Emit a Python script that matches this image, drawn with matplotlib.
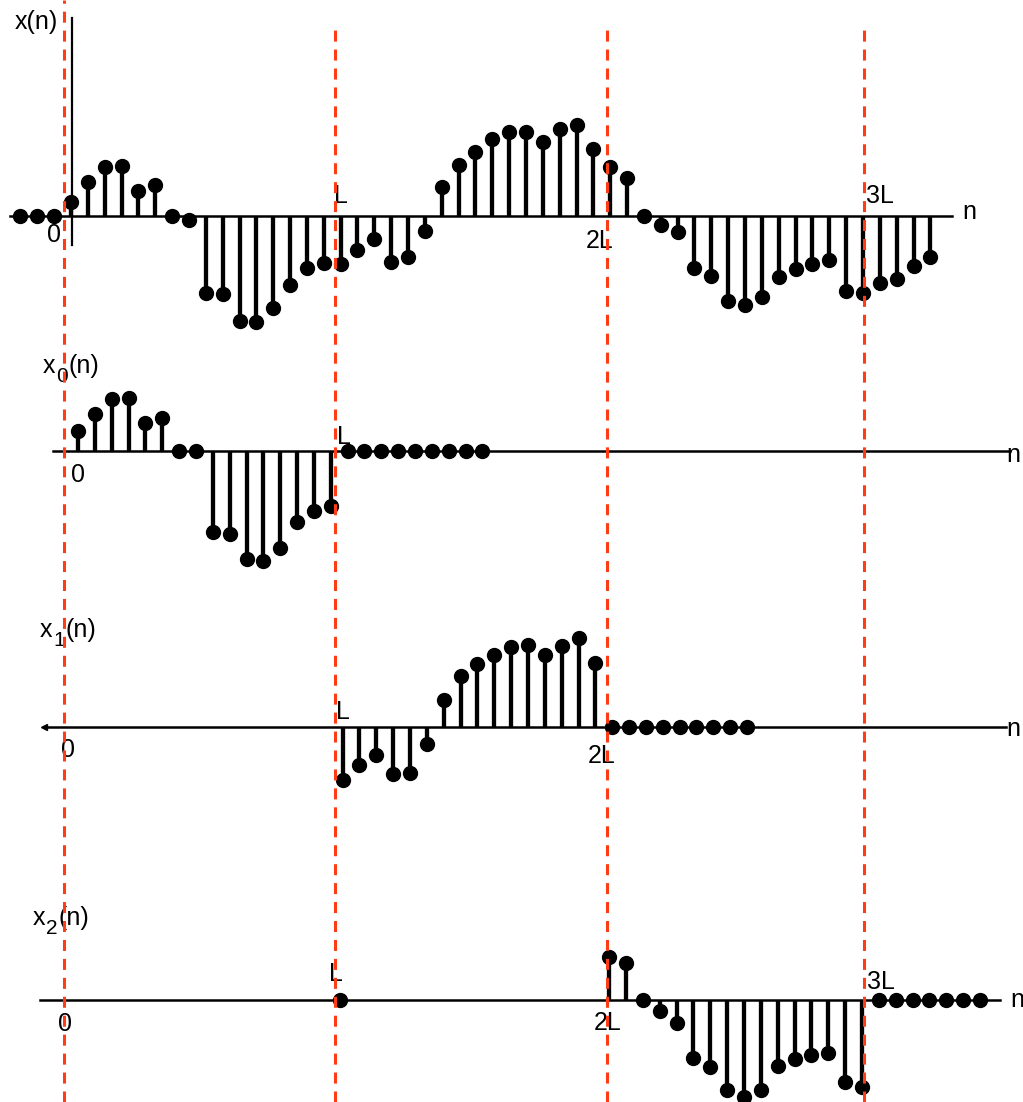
import matplotlib
matplotlib.use("Agg")
import matplotlib.pyplot as plt
import numpy as np

plt.rcParams['font.family'] = ['Liberation Sans', 'DejaVu Sans']

# full input sequence x(n), n = -3 .. 51
n_x = np.arange(-3, 52)
x_vals = [0.0, 0.0, 0.0,
          0.14, 0.34, 0.49, 0.50, 0.25, 0.31, 0.0, -0.04,
          -0.77, -0.78, -1.05, -1.06, -0.92, -0.69, -0.52, -0.47,
          -0.48, -0.34, -0.23, -0.46, -0.41, -0.15,
          0.29, 0.51, 0.64, 0.77, 0.84, 0.84, 0.74, 0.87, 0.91, 0.67,
          0.49, 0.38, 0.0, -0.09, -0.16, -0.52, -0.60, -0.85, -0.89,
          -0.81, -0.61, -0.53, -0.48, -0.44, -0.75, -0.77,
          -0.67, -0.63, -0.50, -0.41]

# first block x0(n), n = 0 .. 24
n_x0 = np.arange(0, 25)
x0_vals = [0.20, 0.37, 0.52, 0.53, 0.28, 0.33, 0.0, 0.0,
           -0.81, -0.83, -1.08, -1.10, -0.97, -0.71, -0.60, -0.55,
           0, 0, 0, 0, 0, 0, 0, 0, 0]

# second block x1(n), n = 16 .. 40
n_x1 = np.arange(16, 41)
x1_vals = [-0.53, -0.38, -0.28, -0.47, -0.46, -0.17,
           0.27, 0.51, 0.63, 0.72, 0.80, 0.82, 0.72, 0.81, 0.89, 0.64,
           0, 0, 0, 0, 0, 0, 0, 0, 0]

# third block x2(n), n = 32 .. 54 (plus the lone dot at L)
n_x2 = np.concatenate([[16], np.arange(32, 55)])
x2_vals = [0.0,
           0.43, 0.37, 0.0, -0.11, -0.23, -0.58, -0.67, -0.90, -0.97,
           -0.90, -0.66, -0.59, -0.55, -0.53, -0.82, -0.87,
           0, 0, 0, 0, 0, 0, 0]

# block boundaries (dashed markers)
bounds = [-0.5, 15.6, 31.75, 47.0]

W, H = 1023, 1102
PX = 16.85  # pixels per sample
FS = 18

fig = plt.figure(figsize=(W / 100, H / 100), dpi=100)


def panel(x_zero, y_base):
    """Axes covering the whole figure, n=0 at x_zero px, baseline at y_base px."""
    ax = fig.add_axes([0, 0, 1, 1])
    ax.set_xlim(-x_zero / PX, (W - x_zero) / PX)
    ax.set_ylim(-(H - y_base) / 100, y_base / 100)
    ax.axis('off')
    ax.patch.set_alpha(0)
    return ax


def stems(ax, n, v):
    ml, sl, bl = ax.stem(n, v, linefmt='k-', markerfmt='ko', basefmt=' ')
    sl.set_linewidth(3.1)
    ml.set_markersize(10)
    ml.set_clip_on(False)
    sl.set_clip_on(False)


def lbl(ax, x, y, s):
    ax.text(x, y, s, fontsize=FS, ha='center', va='center')


def name(ax, x, y, sub):
    """x_k(n) with a full-size, lowered subscript."""
    t1 = ax.text(x, y, 'x', fontsize=FS, ha='left', va='baseline')
    t2 = ax.annotate(sub, xy=(1, 0), xycoords=t1, xytext=(0.5, -6),
                     textcoords='offset points', fontsize=FS - 3,
                     ha='left', va='bottom')
    ax.annotate('(n)', xy=(1, 0), xycoords=(t2, t1), xytext=(0.5, 0),
                textcoords='offset points', fontsize=FS,
                ha='left', va='bottom')


# x(n)
ax = panel(71, 216)
ax.plot([-3.6, 52.3], [0, 0], 'k-', lw=1.8)
ax.plot([0.05, 0.05], [-0.29, 1.98], 'k-', lw=1.6)
stems(ax, n_x, x_vals)
ax.text(-3.32, 1.87, 'x(n)', fontsize=FS, ha='left', va='baseline')
lbl(ax, -1.0, -0.19, '0')
lbl(ax, 16, 0.2, 'L')
lbl(ax, 31.4, -0.25, '2L')
lbl(ax, 48, 0.2, '3L')
lbl(ax, 53.3, 0.04, 'n')

# x0(n)
ax = panel(78, 451)
ax.plot([-1.5, 55.3], [0, 0], 'k-', lw=1.8)
stems(ax, n_x0, x0_vals)
name(ax, -2.08, 0.78, '0')
lbl(ax, 0.0, -0.24, '0')
lbl(ax, 15.8, 0.14, 'L')
lbl(ax, 55.5, -0.04, 'n')

# x1(n)
ax = panel(73, 727)
ax.plot([-1.7, 55.4], [0, 0], 'k-', lw=1.8)
ax.plot([-1.7], [0], 'k<', ms=4)
stems(ax, n_x1, x1_vals)
name(ax, -1.96, 0.90, '1')
lbl(ax, -0.3, -0.23, '0')
lbl(ax, 16.0, 0.15, 'L')
lbl(ax, 31.4, -0.29, '2L')
lbl(ax, 55.8, -0.02, 'n')

# x2(n)
ax = panel(70, 1000)
ax.plot([-1.8, 55.2], [0, 0], 'k-', lw=1.8)
stems(ax, n_x2, x2_vals)
name(ax, -2.2, 0.75, '2')
lbl(ax, -0.3, -0.24, '0')
lbl(ax, 15.8, 0.26, 'L')
lbl(ax, 31.9, -0.23, '2L')
lbl(ax, 48.1, 0.18, '3L')
lbl(ax, 56.2, 0.0, 'n')

# dashed boundary lines over everything
ax = panel(72, H)
ax.set_ylim(0, 1)
for i, b in enumerate(bounds):
    top = 1.0 if i == 0 else 1 - 25 / H
    ax.plot([b, b], [0, top], color='#ff3c14', lw=2.2,
            linestyle=(0, (3.6, 2.6)), zorder=10)

fig.savefig('out.png', dpi=100)
